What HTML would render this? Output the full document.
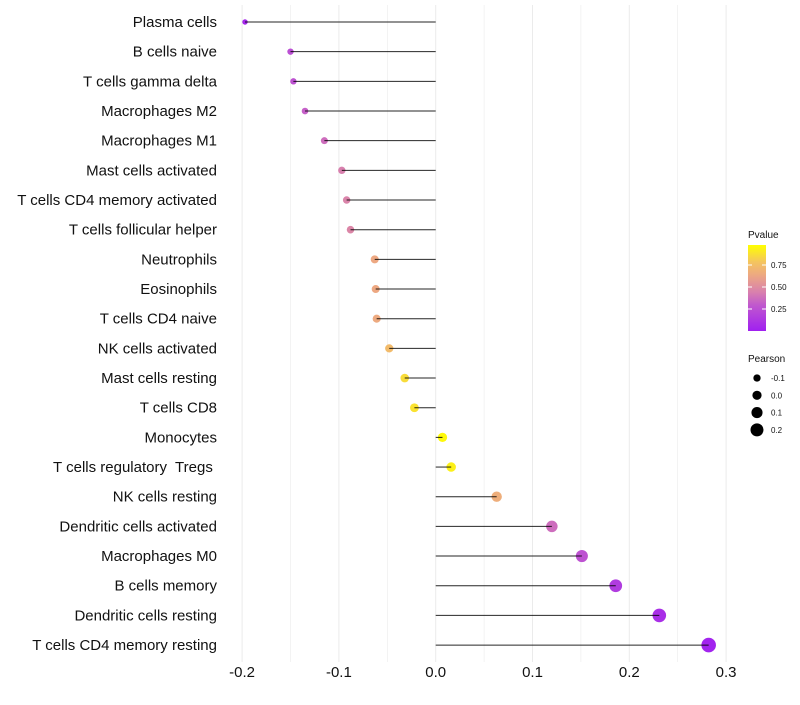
<!DOCTYPE html>
<html><head><meta charset="utf-8"><style>
body{margin:0;background:#fff;}
svg text{font-family:"Liberation Sans",sans-serif;white-space:pre;}
</style></head><body>
<svg id="chart" width="800" height="700"></svg>
<script>
const categories=["Plasma cells","B cells naive","T cells gamma delta","Macrophages M2","Macrophages M1","Mast cells activated","T cells CD4 memory activated","T cells follicular helper","Neutrophils","Eosinophils","T cells CD4 naive","NK cells activated","Mast cells resting","T cells CD8","Monocytes","T cells regulatory  Tregs ","NK cells resting","Dendritic cells activated","Macrophages M0","B cells memory","Dendritic cells resting","T cells CD4 memory resting"];
const pearson=[-0.197,-0.150,-0.147,-0.135,-0.115,-0.097,-0.092,-0.088,-0.063,-0.062,-0.061,-0.048,-0.032,-0.022,0.007,0.016,0.063,0.120,0.151,0.186,0.231,0.282];
const pvalues=[0.04,0.25,0.27,0.33,0.38,0.45,0.47,0.48,0.65,0.65,0.66,0.75,0.88,0.9,0.98,0.95,0.68,0.38,0.27,0.15,0.08,0.02];
const xTicks=[-0.2,-0.1,0.0,0.1,0.2,0.3];
const xTickLabels=["-0.2","-0.1","0.0","0.1","0.2","0.3"];
const colorTicks=[0.25,0.5,0.75];
const sizeTicks=[-0.1,0.0,0.1,0.2];
const NS="http://www.w3.org/2000/svg";
const svg=document.getElementById('chart');
function x(v){return 435.7+v*968;}
function y(i){return 22+i*29.67;}
function r(v){return Math.max(1.5,4.6+v*9.5);}
const stops=[[0,[160,32,240]],[0.3,[192,88,206]],[0.45,[216,128,174]],[0.65,[237,168,130]],[0.8,[244,196,96]],[1,[255,255,0]]];
function col(p){for(let k=1;k<stops.length;k++){if(p<=stops[k][0]){const [p0,a]=stops[k-1],[p1,b]=stops[k];const t=(p-p0)/(p1-p0);return 'rgb('+a.map((c,j)=>Math.round(c+(b[j]-c)*t)).join(',')+')';}}return 'rgb(255,255,0)';}
function mk(t,at,parent){const e=document.createElementNS(NS,t);for(const k in at)e.setAttribute(k,at[k]);(parent||svg).appendChild(e);return e;}
for(let v=-0.2;v<=0.301;v+=0.05){const g=mk('line',{x1:x(v),x2:x(v),y1:5,y2:662,stroke:'#ebebeb','stroke-width':Math.abs(Math.round(v*20))%2===0?1:0.6});

}
xTicks.forEach((v,i)=>{const t=mk('text',{x:x(v),y:677,'text-anchor':'middle','font-size':15,fill:'#111'});t.textContent=xTickLabels[i];

});
categories.forEach((c,i)=>{
const t=mk('text',{x:217,y:y(i)+5,'text-anchor':'end','font-size':15,fill:'#111'});t.textContent=c;


const d=mk('circle',{cx:x(pearson[i]),cy:y(i),r:r(pearson[i]),fill:col(pvalues[i])});


const l=mk('line',{x1:x(0),x2:x(pearson[i]),y1:y(i),y2:y(i),stroke:'#000','stroke-width':1,'stroke-opacity':0.85});


});
const lg=mk('g',{});


const tt=mk('text',{x:748,y:238,'font-size':10,fill:'#111'},lg);tt.textContent='Pvalue';
const defs=mk('defs',{});const gr=mk('linearGradient',{id:'pg',x1:0,y1:1,x2:0,y2:0},defs);
stops.forEach(s=>mk('stop',{offset:s[0],'stop-color':col(s[0])},gr));
mk('rect',{x:748,y:245,width:18,height:86,fill:'url(#pg)'},lg);
colorTicks.forEach(p=>{const yy=331-p*88;mk('line',{x1:748,x2:752,y1:yy,y2:yy,stroke:'#fff'},lg);mk('line',{x1:762,x2:766,y1:yy,y2:yy,stroke:'#fff'},lg);
const t=mk('text',{x:771,y:yy+3,'font-size':8,fill:'#111'},lg);t.textContent=p.toFixed(2);});
const sg=mk('g',{});


const st=mk('text',{x:748,y:362,'font-size':10,fill:'#111'},sg);st.textContent='Pearson';
sizeTicks.forEach((v,i)=>{const yy=378+i*17.3;mk('circle',{cx:757,cy:yy,r:r(v),fill:'#000'},sg);
const t=mk('text',{x:771,y:yy+3,'font-size':8,fill:'#111'},sg);t.textContent=v.toFixed(1);});
</script>
</body></html>
